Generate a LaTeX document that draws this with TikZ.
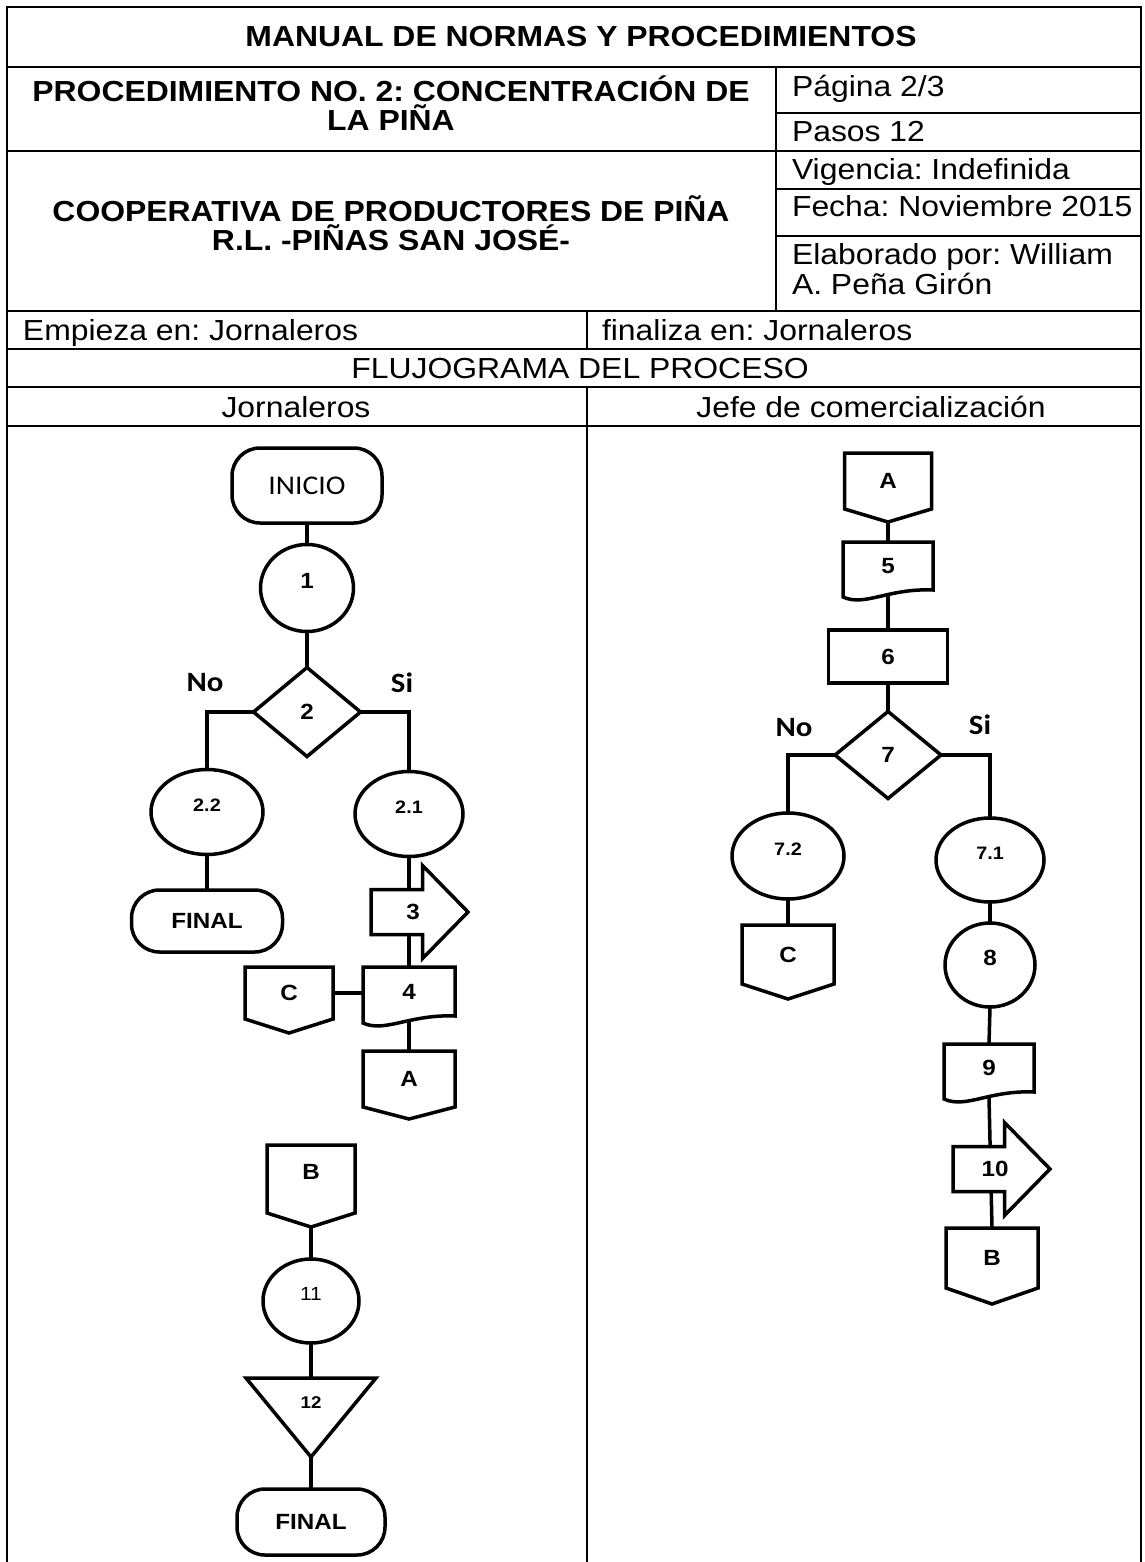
\documentclass[tikz,border=0pt]{standalone}
\usepackage{fontspec}
\setmainfont{Liberation Sans}[FakeStretch=1.1]
\newfontfamily\calib{Carlito}[FakeStretch=1.1]
\usetikzlibrary{shapes.geometric}
\newcommand\tabB{\fontsize{29}{29}\selectfont\bfseries}
\newcommand\tabR{\fontsize{29}{29}\selectfont}
\newcommand\twolinec[2]{\vtop{\halign{\hfil##\hfil\cr #1\cr #2\cr}}}
\newcommand\twolinel[2]{\vtop{\halign{##\hfil\cr #1\cr #2\cr}}}
\newcommand\docu[1]{\draw[outl] (#1.south east) -- (#1.north east) -- (#1.north west) -- ([shift={(0,7)}]#1.south west) .. controls ([shift={(22,17)}]#1.south west) and ([shift={(-45,-2)}]#1.south east) .. (#1.south east) -- cycle;}
\newcommand\offpg[2]{\draw[outl] (#1.north west) -- (#1.north east) -- (#1.south east) -- ([shift={(0,#2)}]#1.south) -- (#1.south west) -- cycle;}
\newcommand\sarrow[1]{\draw[outl, fill=white] ([shift={(-42,-22.5)}]#1) -- ([shift={(9.5,-22.5)}]#1) -- ([shift={(9.5,-46.5)}]#1) -- ([shift={(55,0)}]#1) -- ([shift={(9.5,46.5)}]#1) -- ([shift={(9.5,22.5)}]#1) -- ([shift={(-42,22.5)}]#1) -- cycle;}
\tikzset{
  tline/.style={line width=2pt},
  outl/.style={line width=3.5pt},
  conn/.style={line width=3.5pt},
  shp/.style={draw, line width=3.5pt},
  term/.style={shp, rectangle, rounded corners=28pt},
  ell/.style={shp, ellipse, text depth=14pt},
  dia/.style={shp, diamond},
  boxn/.style={shp, rectangle},
  lb/.style={font=\fontsize{22}{22}\selectfont\bfseries},
  ls/.style={font=\fontsize{18}{18}\selectfont\bfseries},
  nosi/.style={font=\calib\bfseries\fontsize{28}{28}\selectfont},
  every node/.style={inner sep=0pt, outer sep=0pt}
}
\begin{document}
\frenchspacing
\begin{tikzpicture}[x=1pt,y=-1pt]
\useasboundingbox (0,0) rectangle (1144,1562);
% ---------- table ----------
\draw[tline] (7,1562) -- (7,7) -- (1141,7) -- (1141,1562);
\foreach \yy in {67,151,311,349,387,426} \draw[tline] (7,\yy) -- (1141,\yy);
\draw[tline] (776,67) -- (776,311);
\foreach \yy in {113,189,236} \draw[tline] (776,\yy) -- (1141,\yy);
\draw[tline] (587,311) -- (587,349);
\draw[tline] (587,387) -- (587,1562);

\node[anchor=base, font=\tabB] (h1) at (581,47) {MANUAL DE NORMAS Y PROCEDIMIENTOS};
\node[anchor=base, font=\tabB] (h2) at (391,102) {\twolinec{PROCEDIMIENTO NO. 2: CONCENTRACIÓN DE}{LA PIÑA}};
\node[anchor=base west, font=\tabR] (h3) at (792,97) {Página 2/3};
\node[anchor=base west, font=\tabR] (h4) at (792,142) {Pasos 12};
\node[anchor=base west, font=\tabR] (h5) at (792,180) {Vigencia: Indefinida};
\node[anchor=base west, font=\tabR] (h6) at (792,217) {Fecha: Noviembre 2015};
\node[anchor=base west, font=\tabR] (h7) at (792,265) {\twolinel{Elaborado por: William}{A. Peña Girón}};
\node[anchor=base, font=\tabB] (h8) at (391,222) {\twolinec{COOPERATIVA DE PRODUCTORES DE PIÑA}{R.L. -PIÑAS SAN JOSÉ-}};
\node[anchor=base west, font=\tabR] (h9) at (23,340) {Empieza en: Jornaleros};
\node[anchor=base west, font=\tabR] (h10) at (602,340) {finaliza en: Jornaleros};
\node[anchor=base, font=\tabR] (h11) at (580,378) {FLUJOGRAMA DEL PROCESO};
\node[anchor=base, font=\tabR] (h12) at (296,417) {Jornaleros};
\node[anchor=base, font=\tabR] (h13) at (871,417) {Jefe de comercialización};

% ---------- left lane ----------
\node[term, minimum width=150pt, minimum height=75pt, font=\calib\fontsize{27}{27}\selectfont] (ini) at (307,485.5) {INICIO};
\node[ell, minimum width=93pt, minimum height=87pt, lb] (e1) at (307,588) {1};
\node[dia, minimum width=107pt, minimum height=89pt, lb] (d2) at (307,712) {2};
\node[nosi] (no1) at (205,683) {No};
\node[nosi] (si1) at (402,683) {Si};
\node[ell, minimum width=112pt, minimum height=85pt, ls] (e22) at (207,812) {2.2};
\node[ell, minimum width=108pt, minimum height=85pt, ls] (e21) at (409,814) {2.1};
\node[term, minimum width=151pt, minimum height=62pt, lb] (f1) at (207,921) {FINAL};
\node[minimum width=92pt, minimum height=49pt, lb] (d4) at (409,991.5) {4};
\node[minimum width=88pt, minimum height=52pt, lb] (c1) at (289,993) {C};
\node[minimum width=92pt, minimum height=56pt, lb] (a1) at (409,1079) {A};
\node[minimum width=88pt, minimum height=68pt, lb, text depth=14pt] (b1) at (311,1179) {B};
\node[ell, minimum width=96pt, minimum height=84pt, font=\fontsize{19}{19}\selectfont] (e11) at (311,1301) {11};
\node[minimum width=130pt, minimum height=79pt, text depth=29pt, font=\fontsize{17}{17}\selectfont\bfseries] (t12) at (311,1417.5) {12};
\node[term, minimum width=148pt, minimum height=66pt, lb] (f2) at (311,1522) {FINAL};
\coordinate (c3) at (413,912);

% ---------- right lane ----------
\node[minimum width=87pt, minimum height=56pt, lb] (a2) at (888,481) {A};
\node[minimum width=90pt, minimum height=48pt, lb] (d5) at (888,566) {5};
\node[boxn, minimum width=119pt, minimum height=53pt, lb] (r6) at (888,656.5) {6};
\node[dia, minimum width=106pt, minimum height=87pt, lb] (d7) at (888,755) {7};
\node[nosi] (no2) at (794,728) {No};
\node[nosi] (si2) at (980,725) {Si};
\node[ell, minimum width=112pt, minimum height=86pt, ls] (e72) at (788,856) {7.2};
\node[ell, minimum width=108pt, minimum height=84pt, ls] (e71) at (990,860) {7.1};
\node[minimum width=92pt, minimum height=59pt, lb] (c2) at (788,954.5) {C};
\node[ell, minimum width=90pt, minimum height=84pt, lb] (e8) at (990,965) {8};
\node[minimum width=90pt, minimum height=48pt, lb] (d9) at (989,1068) {9};
\node[minimum width=92pt, minimum height=60pt, lb] (b2) at (992,1258) {B};
\coordinate (c10) at (995,1169);

% ---------- connectors ----------
\draw[conn] (ini) -- (e1);
\draw[conn] (e1) -- (d2);
\draw[conn] (d2.west) -| (e22.north);
\draw[conn] (d2.east) -| (e21.north);
\draw[conn] (e22) -- (f1);
\draw[conn] (e21.south) -- (d4.north);
\draw[conn] (c1.east) -- (c1.east -| d4.west);
\draw[conn] ([shift={(0,6)}]d4.south) -- (a1.north);
\draw[conn] ([shift={(0,14)}]b1.south) -- (e11.north);
\draw[conn] (e11.south) -- (t12.north);
\draw[conn] (t12.south) -- (f2.north);

\draw[conn] ([shift={(0,13)}]a2.south) -- (d5.north);
\draw[conn] ([shift={(0,6)}]d5.south) -- (r6.north);
\draw[conn] (r6) -- (d7);
\draw[conn] (d7.west) -| (e72.north);
\draw[conn] (d7.east) -| (e71.north);
\draw[conn] (e72.south) -- (c2.north);
\draw[conn] (e71) -- (e8);
\draw[conn] (e8.south) -- (d9.north);
\draw[conn] ([shift={(0,6)}]d9.south) -- (b2.north);

% ---------- custom outlines ----------
\sarrow{c3}
\node[lb] (a3) at (c3) {3};
\sarrow{c10}
\node[lb] (a10) at (c10) {10};
\docu{d4}
\docu{d5}
\docu{d9}
\offpg{c1}{14}
\offpg{a1}{12}
\offpg{b1}{14}
\offpg{a2}{13}
\offpg{c2}{15}
\offpg{b2}{16}
\draw[outl] (t12.north west) -- (t12.north east) -- (t12.south) -- cycle;
\end{tikzpicture}
\end{document}
